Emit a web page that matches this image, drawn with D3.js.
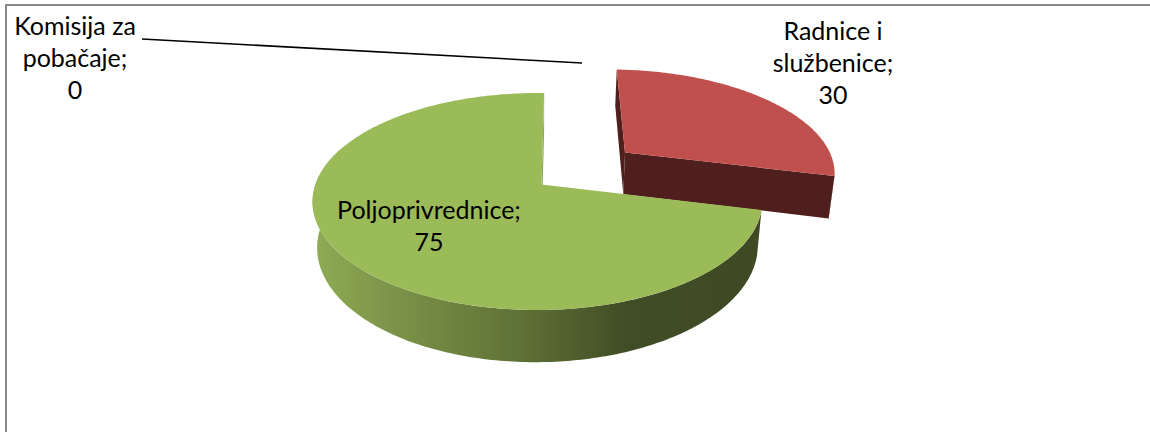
<!DOCTYPE html>
<html><head><meta charset="utf-8">
<script src="https://cdn.jsdelivr.net/npm/d3@7"></script>
<style>html,body{margin:0;padding:0;background:#fff}svg{display:block}text{font-family:Lato,"Open Sans",sans-serif;font-size:25px;fill:#000}</style>
</head><body><svg id="c" width="1150" height="432"></svg>
<script>
const categories = ["Radnice i službenice", "Poljoprivrednice", "Komisija za pobačaje"];
const values = [30, 75, 0];
const labelLines = [["Radnice i","službenice;","30"],["Poljoprivrednice;","75"],["Komisija za","pobačaje;","0"]];
const labelAnchors = [[833,40],[429,219],[75,35]];
const leader = [[142,39],[582,63]];
const topColors = ["#C0504D","#9BBB59"];

const svg = d3.select("#c");
const W=1150,H=432;
svg.append("path").attr("d",`M6,${H}V5H${W}`).attr("fill","none").attr("stroke","#878787").attr("stroke-width",2);

const defs = svg.append("defs");
const g = defs.append("linearGradient").attr("id","gs").attr("gradientUnits","userSpaceOnUse").attr("x1",315).attr("x2",760).attr("y1",0).attr("y2",0);
[[0,"#8fab54"],[.17,"#7c9449"],[.47,"#5e7035"],[.7,"#414d26"],[1,"#3f4a25"]].forEach(s=>g.append("stop").attr("offset",s[0]).attr("stop-color",s[1]));

// perspective projection of the pie plane
const cx=541.5, cy=184.5, rx=222, ry=105.8, pb=0.1567, pd=-0.018, thick=44, shrink=0.98;
const explode=0.51, explodeTurn=-1*Math.PI/180;
const startDeg=0.8;
function proj(u,v,bottom){
  const s=1/(1-pb*v-pd*u);
  const k=bottom?shrink:1;
  return [cx+k*rx*u*s, cy+ry*v*s+(bottom?thick*s:0)];
}
const pie=d3.pie().sort(null).value(d=>d).startAngle(startDeg*Math.PI/180).endAngle((360+startDeg)*Math.PI/180);
const arcs=pie(values);
const line=d3.line();

function off(a,e){const m=(a.startAngle+a.endAngle)/2+explodeTurn;return [e*Math.sin(m),-e*Math.cos(m)];}
function rim(a0,a1,o,bottom){
  const n=Math.max(2,Math.ceil(Math.abs(a1-a0)*60));
  return d3.range(n+1).map(i=>{const t=a0+(a1-a0)*i/n;return proj(o[0]+Math.sin(t),o[1]-Math.cos(t),bottom);});
}
function face(a,o){return line([proj(o[0],o[1]),...rim(a.startAngle,a.endAngle,o)])+"Z";}
function wall(t,o){
  const p=[o[0]+Math.sin(t),o[1]-Math.cos(t)];
  return line([proj(p[0],p[1]),proj(o[0],o[1]),proj(o[0],o[1],true),proj(p[0],p[1],true)])+"Z";
}

// Red exploded slice
const red=arcs[0], ro=off(red,explode);
svg.append("path").attr("d",wall(red.startAngle,ro)).attr("fill","#4F1F1E");
svg.append("path").attr("d",wall(red.endAngle,ro)).attr("fill","#4F1F1E");
svg.append("path").attr("d",line([...rim(red.endAngle-0.02,red.endAngle,ro),...rim(red.endAngle,red.endAngle-0.02,ro,true)])+"Z").attr("fill","#4F1F1E");
svg.append("path").attr("d",face(red,ro)).attr("fill",topColors[0]);

// Green slice
const green=arcs[1], go=[0,0];
svg.append("path").attr("d",wall(green.endAngle,go)).attr("fill","#8aa550");
const sideEnd=Math.min(green.endAngle,290*Math.PI/180);
svg.append("path").attr("d",line([...rim(green.startAngle,sideEnd,go),...rim(sideEnd,green.startAngle,go,true)])+"Z").attr("fill","url(#gs)");
svg.append("path").attr("d",face(green,go)).attr("fill",topColors[1]);

// leader line
svg.append("path").attr("d",line(leader)).attr("stroke","#000").attr("stroke-width",1.6).attr("fill","none");

// labels
categories.forEach((c,i)=>{
  const t=svg.append("text").attr("text-anchor","middle").attr("x",labelAnchors[i][0]).attr("y",labelAnchors[i][1]);
  labelLines[i].forEach((l,j)=>t.append("tspan").attr("x",labelAnchors[i][0]).attr("dy",j?32:0).text(l));
});
</script></body></html>
